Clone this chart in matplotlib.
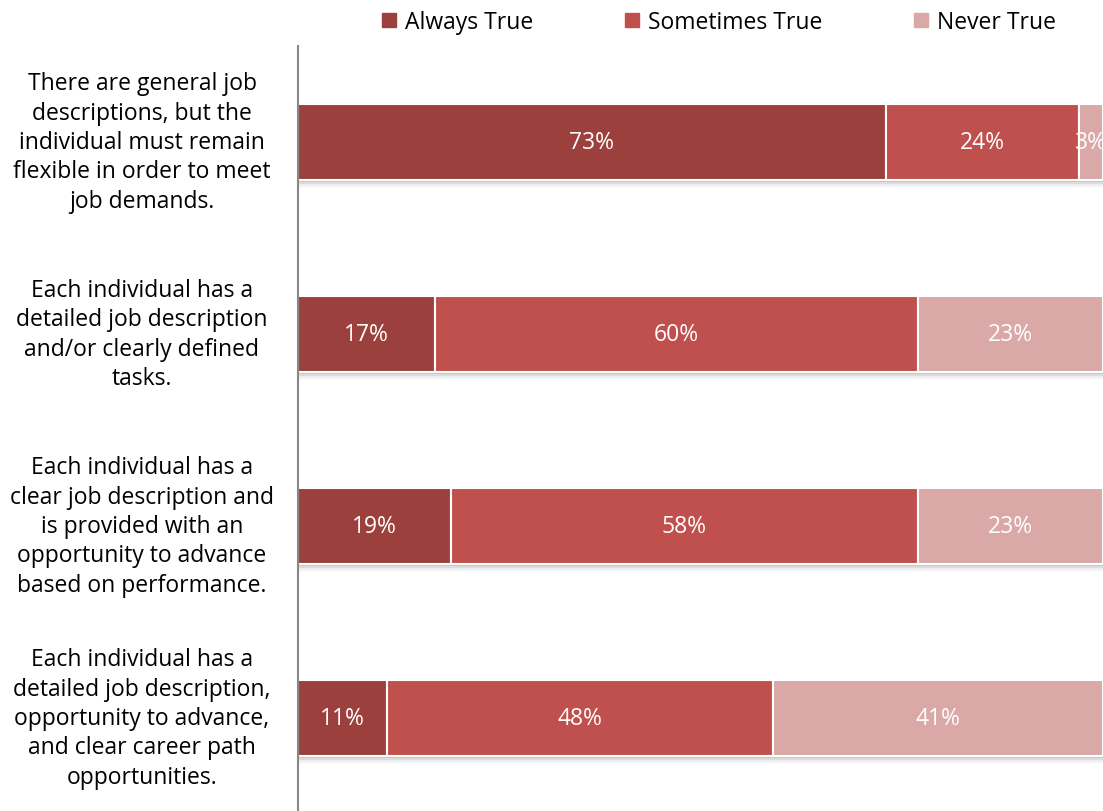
import numpy as np
import matplotlib.pyplot as plt
import matplotlib.transforms as mtransforms

statements = [
    "There are general job\ndescriptions, but the\nindividual must remain\nflexible in order to meet\njob demands.",
    "Each individual has a\ndetailed job description\nand/or clearly defined\ntasks.",
    "Each individual has a\nclear job description and\nis provided with an\nopportunity to advance\nbased on performance.",
    "Each individual has a\ndetailed job description,\nopportunity to advance,\nand clear career path\nopportunities.",
]
always = [73, 17, 19, 11]
sometimes = [24, 60, 58, 48]
never = [3, 23, 23, 41]

series = ["Always True", "Sometimes True", "Never True"]
colors = ["#9C403E", "#C0504D", "#DAA8A7"]

plt.rcParams["font.family"] = ["Open Sans", "DejaVu Sans"]

fig = plt.figure(figsize=(11.03, 8.12), dpi=100)
ax = fig.add_axes([298 / 1103, -3 / 812, 805 / 1103, 768 / 812])

y = np.arange(len(statements))
h = 0.4

# soft shadow under each bar
for k, a in enumerate([0.10, 0.07, 0.045, 0.025]):
    off = 0.01 + k * 0.01
    ax.barh(y + off, 100, height=h, color="black", alpha=a, linewidth=0, zorder=1)

left = np.zeros(len(statements))
for vals, name, c in zip([always, sometimes, never], series, colors):
    vals = np.array(vals, dtype=float)
    ax.barh(y, vals, left=left, height=h, color=c, edgecolor="white",
            linewidth=1.5, label=name, zorder=2)
    for yi, l, v in zip(y, left, vals):
        ax.text(l + v / 2, yi, f"{int(v)}%", ha="center", va="center",
                color="white", fontsize=16.5, zorder=3, clip_on=True)
    left += vals

ax.set_xlim(0, 100)
ax.set_ylim(3.5, -0.5)
ax.set_xticks([])
ax.set_yticks([])
for s in ["top", "right", "bottom"]:
    ax.spines[s].set_visible(False)
ax.spines["left"].set_color("#888888")
ax.spines["left"].set_linewidth(1.5)

# statement labels left of the axes: x in figure fraction, y in data
trans = mtransforms.blended_transform_factory(fig.transFigure, ax.transData)
for yi, label in zip(y, statements):
    ax.text(142 / 1103, yi, label, transform=trans, clip_on=False,
            fontsize=16.5, ha="center", va="center", multialignment="center",
            color="black", linespacing=1.3)

handles = [plt.Rectangle((0, 0), 1, 1, color=c) for c in colors]
fig.legend(handles, series, loc="upper center", bbox_to_anchor=(0.652, 1.012),
           ncol=3, frameon=False, fontsize=16.5, handlelength=0.6, handleheight=0.6,
           handletextpad=0.4, columnspacing=4.0)

fig.savefig("out.png", dpi=100)
